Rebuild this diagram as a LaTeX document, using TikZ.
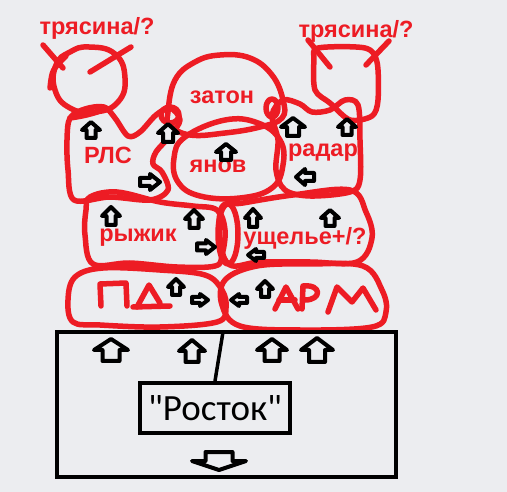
\documentclass[tikz,border=0pt]{standalone}
\usepackage{fontspec}
\setmainfont{Liberation Sans}
\newfontfamily\calib{Carlito}
\definecolor{bg}{RGB}{236,237,240}
\definecolor{pred}{RGB}{237,28,36}
\tikzset{
  blob/.style={draw=pred, line width=5.5pt, line join=round, line cap=round},
  redtxt/.style={text=pred, font=\bfseries\fontsize{23.5}{23.5}\selectfont, inner sep=0pt},
  pics/blockarrow/.style 2 args={code={
    \filldraw[fill=bg, draw=black, line width=4pt, line join=round]
      (0,-#2/2) -- (#1/2,0) -- (#1/4,0) -- (#1/4,#2/2) -- (-#1/4,#2/2) -- (-#1/4,0) -- (-#1/2,0) -- cycle;
  }},
}
\begin{document}
\begin{tikzpicture}[x=1pt,y=-1pt]
\fill[bg] (0,0) rectangle (507,492);
\useasboundingbox (0,0) rectangle (507,492);

% top-left circle with crossing strokes
\draw[blob] plot[smooth cycle, tension=0.8] coordinates {(89,47) (115,54) (125,78) (118,102) (95,112) (70,108) (55,90) (56,65) (70,52)};
\draw[blob] (50,88) .. controls (52,70) .. (66,56);
\draw[blob] (43,45) -- (63,68);
\draw[blob] (90,72) -- (131,47);

% top-right rounded square with crossing strokes
\draw[blob] plot[smooth cycle, tension=0.5] coordinates {(318,48) (365,48) (377,62) (378,100) (372,116) (350,120) (330,103) (315,90) (314,60)};
\draw[blob] (308,40) -- (330,67);
\draw[blob] (366,65) -- (389,41);

% zaton
\draw[blob] plot[smooth cycle, tension=0.7] coordinates {(168,112) (175,80) (195,62) (220,55) (250,58) (272,75) (283,100) (282,118) (260,127) (225,133) (190,135) (170,125)};
\draw[blob] (272,108) circle[x radius=6, y radius=9];
\draw[blob] (170,115) circle[x radius=9, y radius=8];

% yanov
\draw[blob] plot[smooth cycle, tension=0.7] coordinates {(225,120) (258,123) (280,140) (283,165) (272,188) (240,198) (200,196) (178,182) (174,158) (185,137)};

% RLS
\draw[blob] plot[smooth cycle, tension=0.55] coordinates {(70,118) (85,109) (104,107) (115,118) (128,136) (140,132) (156,115) (170,108) (180,120) (170,136) (156,152) (153,164) (162,172) (168,190) (150,200) (110,197) (74,200) (68,170) (67,140)};
\draw[blob] (70,118) .. controls (85,116) and (100,112) .. (106,108);

% radar
\draw[blob] plot[smooth cycle, tension=0.55] coordinates {(283,100) (300,104) (312,112) (330,110) (345,100) (358,105) (360,140) (360,180) (350,192) (310,196) (285,190) (276,170) (278,140) (272,115)};

% ryzhik
\draw[blob] plot[smooth cycle, tension=0.6] coordinates {(90,197) (117,192) (160,202) (193,206) (217,210) (225,230) (222,255) (215,266) (177,267) (130,263) (93,264) (85,235) (86,210)};

% ushchelye
\draw[blob] plot[smooth cycle, tension=0.6] coordinates {(222,207) (243,203) (293,195) (350,190) (366,212) (372,238) (357,262) (310,262) (260,262) (230,265) (220,240)};
\draw[blob] (228,234) circle[x radius=10, y radius=30];

% PD
\draw[blob] plot[smooth cycle, tension=0.6] coordinates {(75,277) (103,268) (160,270) (205,275) (222,290) (226,308) (217,322) (160,327) (100,325) (73,322) (68,300)};

% ARM
\draw[blob] plot[smooth cycle, tension=0.6] coordinates {(225,280) (257,266) (310,264) (363,266) (382,290) (386,312) (372,327) (300,330) (240,326) (222,305)};

% handwritten PD
\draw[blob] (101,306) -- (100,284) -- (126,283) -- (127,306);
\draw[blob] (137,307) -- (149,285) -- (160,303);
\draw[blob] (133,307) -- (170,306);

% handwritten ARM
\draw[blob] (275,309) -- (286,287) -- (298,309);
\draw[blob] (279,300) -- (295,300);
\draw[blob] (302,309) -- (303,286) .. controls (322,284) and (322,300) .. (305,300);
\draw[blob] (328,312) -- (337,287) -- (352,302) -- (363,288) -- (376,310);

% red labels
\node[redtxt] (tr1) at (97,28) {трясина/?};
\node[redtxt] (tr2) at (356,31) {трясина/?};
\node[redtxt] (zaton) at (222,97) {затон};
\node[redtxt] (rls) at (108,155) {РЛС};
\node[redtxt] (yanov) at (218,166) {янов};
\node[redtxt] (radar) at (323,153) {радар};
\node[redtxt] (ryzhik) at (138,238) {рыжик};
\node[redtxt] (ushch) at (305,238) {ущелье+/?};

% small arrows
\pic at (91,130) {blockarrow={18}{16}};
\pic at (168,133) {blockarrow={20}{18}};
\pic at (226,152) {blockarrow={20}{16}};
\pic[rotate=-90] at (150,182) {blockarrow={16}{20}};
\pic at (293,127) {blockarrow={24}{18}};
\pic at (347,127) {blockarrow={18}{16}};
\pic[rotate=90] at (305,177) {blockarrow={16}{18}};
\pic at (111,216) {blockarrow={18}{18}};
\pic at (194,219) {blockarrow={18}{18}};
\pic[rotate=-90] at (206,247) {blockarrow={14}{18}};
\pic at (253,218) {blockarrow={16}{18}};
\pic at (330,218) {blockarrow={18}{16}};
\pic[rotate=90] at (256,255) {blockarrow={12}{16}};
\pic at (176,287) {blockarrow={16}{16}};
\pic[rotate=-90] at (200,300) {blockarrow={12}{16}};
\pic[rotate=90] at (239,300) {blockarrow={12}{16}};
\pic at (265,289) {blockarrow={16}{16}};

% Rostok box
\draw[line width=4pt] (57,332) rectangle (396,477);
\node[draw, line width=4pt, minimum width=150pt, minimum height=50pt, inner sep=0pt, font=\calib\fontsize{37}{37}\selectfont] (rostok) at (215,408) {"Росток"};
\coordinate (topc) at (223,332);
\draw[line width=3.5pt] (topc) -- (rostok.north);
\pic at (111,350) {blockarrow={34}{22}};
\pic at (192,351) {blockarrow={26}{22}};
\pic at (272,350) {blockarrow={30}{22}};
\pic at (317,350) {blockarrow={32}{24}};
\pic[rotate=180] at (219,461) {blockarrow={54}{18}};
\end{tikzpicture}
\end{document}
